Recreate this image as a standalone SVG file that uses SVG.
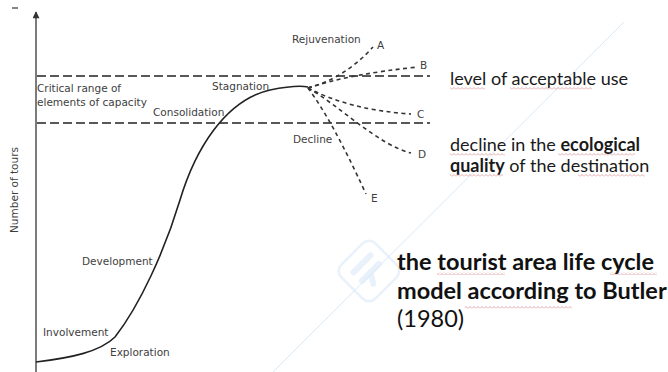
<svg xmlns="http://www.w3.org/2000/svg" width="668" height="372" viewBox="0 0 668 372">
  <defs>
    <marker id="axisHead" viewBox="0 0 10 10" refX="9" refY="5" markerWidth="9" markerHeight="7" orient="auto" markerUnits="userSpaceOnUse">
      <path d="M0,0 L10,5 L0,10 Z" fill="#333"/>
    </marker>
    <pattern id="squiggle" width="4" height="3" patternUnits="userSpaceOnUse">
      <path d="M0,2.5 L2,0.5 L4,2.5" fill="none" stroke="#d98a8a" stroke-width="0.7"/>
    </pattern>
  </defs>
  <style>
    .lbl { font-family: "DejaVu Sans", "Liberation Sans", sans-serif; font-size: 10.5px; fill: #3e3e3e; }
    .axis { stroke: #444; stroke-width: 1.4; fill: none; }
    .limit { stroke: #222; stroke-width: 1.7; stroke-dasharray: 9 4; fill: none; }
    .curve { stroke: #222; stroke-width: 1.6; fill: none; }
    .branch { stroke: #333; stroke-width: 1.6; stroke-dasharray: 4 3.5; fill: none; }
    .note { font-family: Lato, "Open Sans", "Liberation Sans", sans-serif; font-size: 18px; fill: #1a1a1a; }
    .title { font-family: Lato, "Open Sans", "Liberation Sans", sans-serif; font-size: 23.5px; fill: #111; }
    .wm { stroke: #d8e8f7; fill: none; }
  </style>

  <rect width="668" height="372" fill="#ffffff"/>

  <!-- faint watermark -->
  <g id="watermark">
    <line class="wm" x1="273" y1="372" x2="624" y2="22" stroke-width="1"/>
    <g transform="translate(369,271) rotate(45)" opacity="0.55">
      <rect x="-24" y="-24" width="48" height="48" rx="9" class="wm" stroke-width="2.5"/>
      <line x1="-10" y1="-12" x2="-10" y2="12" stroke="#d8e8f7" stroke-width="6" stroke-linecap="round"/>
      <line x1="2" y1="-12" x2="2" y2="12" stroke="#d8e8f7" stroke-width="6" stroke-linecap="round"/>
      <line x1="2" y1="0" x2="12" y2="6" stroke="#d8e8f7" stroke-width="6" stroke-linecap="round"/>
    </g>
  </g>

  <!-- axis -->
  <g id="axis">
    <line x1="12" y1="8" x2="18" y2="8" stroke="#333" stroke-width="1.2"/>
    <line class="axis" x1="36" y1="372" x2="36" y2="12" marker-end="url(#axisHead)"/>
    <text class="lbl" font-size="10" transform="translate(18,190) rotate(-90)" text-anchor="middle">Number of tours</text>
  </g>

  <!-- capacity limits -->
  <g id="capacity-band">
    <line class="limit" x1="37" y1="76" x2="430" y2="76"/>
    <line class="limit" x1="37" y1="123" x2="430" y2="123"/>
    <text class="lbl" x="37" y="92">Critical range of</text>
    <text class="lbl" x="37" y="106">elements of capacity</text>
  </g>

  <!-- main life-cycle curve and its five possible futures -->
  <g id="connectors">
    <path class="curve" d="M36,362 C70,358 100,352 115,337 C140,305 165,250 180,200 C195,150 225,100 270,90 C285,87 298,85 308,87"/>
    <path class="branch" d="M308,88 Q345,78 373,47"/>
    <path class="branch" d="M308,88 Q350,74 418,67"/>
    <path class="branch" d="M308,88 Q350,110 411,114"/>
    <path class="branch" d="M308,88 C340,106 378,145 411,153"/>
    <path class="branch" d="M308,88 Q332,120 366,194"/>
  </g>

  <!-- stage labels -->
  <g id="stage-exploration"><text class="lbl" x="110" y="356">Exploration</text></g>
  <g id="stage-involvement"><text class="lbl" x="43" y="336">Involvement</text></g>
  <g id="stage-development"><text class="lbl" x="82" y="265">Development</text></g>
  <g id="stage-consolidation"><text class="lbl" x="153" y="116">Consolidation</text></g>
  <g id="stage-stagnation"><text class="lbl" x="212" y="90">Stagnation</text></g>
  <g id="stage-rejuvenation"><text class="lbl" x="292" y="43">Rejuvenation</text></g>
  <g id="stage-decline"><text class="lbl" x="293" y="143">Decline</text></g>

  <!-- branch end labels -->
  <g id="end-a"><text class="lbl" x="377" y="49">A</text></g>
  <g id="end-b"><text class="lbl" x="420" y="69">B</text></g>
  <g id="end-c"><text class="lbl" x="417" y="118">C</text></g>
  <g id="end-d"><text class="lbl" x="418" y="158">D</text></g>
  <g id="end-e"><text class="lbl" x="371" y="202">E</text></g>

  <!-- notes on the right -->
  <g id="note-acceptable">
    <text class="note" x="450" y="85">level of acceptable use</text>
    <rect x="450" y="87" width="35" height="3" fill="url(#squiggle)"/>
    <rect x="510" y="87" width="82" height="3" fill="url(#squiggle)"/>
  </g>
  <g id="note-ecological">
    <text class="note" x="450" y="151">decline in the <tspan font-weight="bold">ecological</tspan></text>
    <text class="note" x="450" y="172"><tspan font-weight="bold">quality</tspan> of the destination</text>
    <rect x="450" y="153" width="55" height="3" fill="url(#squiggle)"/>
    <rect x="558" y="153" width="77" height="3" fill="url(#squiggle)"/>
    <rect x="450" y="174" width="53" height="3" fill="url(#squiggle)"/>
    <rect x="578" y="174" width="67" height="3" fill="url(#squiggle)"/>
  </g>
  <g id="title">
    <text class="title" font-weight="bold" x="397" y="270">the tourist area life cycle</text>
    <text class="title" font-weight="bold" x="397" y="299">model according to Butler</text>
    <text class="title" x="397" y="327">(1980)</text>
    <rect x="437" y="272" width="68" height="3" fill="url(#squiggle)"/>
    <rect x="610" y="272" width="47" height="3" fill="url(#squiggle)"/>
    <rect x="465" y="306" width="107" height="3" fill="url(#squiggle)"/>
  </g>
</svg>
